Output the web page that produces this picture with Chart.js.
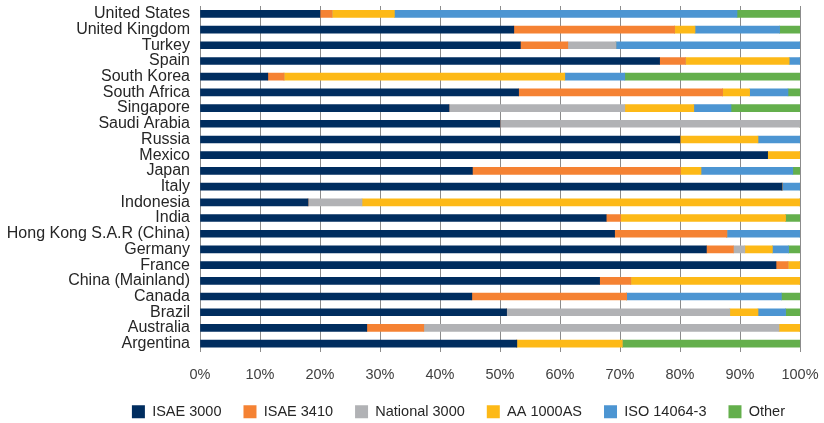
<!DOCTYPE html>
<html>
<head>
<meta charset="utf-8">
<script src="https://cdn.jsdelivr.net/npm/chart.js@4"></script>
<style>
  html, body { margin: 0; padding: 0; background: #fff; }
  #wrap { width: 824px; height: 423px; }
</style>
</head>
<body>
<div id="wrap"><canvas id="assuranceChart" width="824" height="423"></canvas></div>
<script>
// Assurance standards by country (share of reports, %)
const countries = ['United States', 'United Kingdom', 'Turkey', 'Spain', 'South Korea', 'South Africa',
    'Singapore', 'Saudi Arabia', 'Russia', 'Mexico', 'Japan', 'Italy', 'Indonesia', 'India',
    'Hong Kong S.A.R (China)', 'Germany', 'France', 'China (Mainland)', 'Canada', 'Brazil',
    'Australia', 'Argentina'];

const isae3000     = [20, 52.3, 53.4, 76.6, 11.3, 53.1, 41.5, 50, 80, 94.6, 45.4, 97, 18, 67.7, 69.1, 84.4, 96, 66.6, 45.3, 51.1, 27.8, 52.8];
const isae3410     = [2, 26.8, 7.9, 4.3, 2.7, 34, 0, 0, 0, 0, 34.7, 0, 0, 2.4, 18.7, 4.5, 2, 5.2, 25.8, 0, 9.5, 0];
const national3000 = [0, 0, 8, 0, 0, 0, 29.3, 50, 0, 0, 0, 0, 9, 0, 0, 1.9, 0, 0, 0, 37.2, 59.2, 0];
const aa1000as     = [10.4, 3.4, 0, 17.3, 46.8, 4.5, 11.5, 0, 13, 5.4, 3.4, 0, 73, 27.5, 0, 4.6, 2, 28.2, 0, 4.7, 3.5, 17.6];
const iso14064     = [57.1, 14.1, 30.7, 1.8, 10, 6.4, 6.2, 0, 7, 0, 15.3, 3, 0, 0, 12.2, 2.7, 0, 0, 25.8, 4.6, 0, 0];
const other        = [10.5, 3.4, 0, 0, 29.2, 2, 11.5, 0, 0, 0, 1.2, 0, 0, 2.4, 0, 1.9, 0, 0, 3.1, 2.4, 0, 29.6];

const xTicks = [0, 10, 20, 30, 40, 50, 60, 70, 80, 90, 100];

const seriesNames = ['ISAE 3000', 'ISAE 3410', 'National 3000', 'AA 1000AS', 'ISO 14064-3', 'Other'];
const seriesData = [isae3000, isae3410, national3000, aa1000as, iso14064, other];
const seriesColors = ['#002D5F', '#F58233', '#B1B2B5', '#FDB917', '#4C95D2', '#64AF4C'];

const fontFamily = '"Liberation Sans", Arial, sans-serif';

const datasets = seriesNames.map((name, i) => ({
    label: name,
    data: seriesData[i],
    backgroundColor: seriesColors[i],
    borderWidth: 0,
    barThickness: 7
}));

new Chart(document.getElementById('assuranceChart'), {
    type: 'bar',
    data: { labels: countries, datasets: datasets },
    options: {
        indexAxis: 'y',
        responsive: false,
        animation: false,
        layout: { padding: { top: 6, right: 17, bottom: -6, left: 0 } },
        plugins: {
            tooltip: { enabled: false },
            legend: {
                position: 'bottom',
                align: 'end',
                labels: {
                    boxWidth: 13,
                    boxHeight: 13,
                    padding: 22,
                    color: '#262626',
                    font: { family: fontFamily, size: 14.5 }
                }
            }
        },
        scales: {
            x: {
                stacked: true,
                min: 0,
                max: 100,
                afterBuildTicks: (scale) => { scale.ticks = xTicks.map(v => ({ value: v })); },
                afterFit: (scale) => {
                    scale.height = 31;
                    scale.paddingLeft = 0;
                    scale.paddingRight = 24;
                },
                ticks: {
                    color: '#404040',
                    padding: 15,
                    font: { family: fontFamily, size: 14.5 },
                    callback: (v) => v + '%'
                },
                grid: { color: '#8c8c8c', lineWidth: 1, drawTicks: false },
                border: { display: false }
            },
            y: {
                stacked: true,
                afterFit: (scale) => {
                    scale.width = 200;
                    scale.paddingTop = 0;
                    scale.paddingBottom = 0;
                },
                ticks: {
                    autoSkip: false,
                    color: '#262626',
                    padding: 10,
                    font: { family: fontFamily, size: 16, lineHeight: 1 }
                },
                grid: { display: false, drawTicks: false },
                border: { display: false }
            }
        }
    }
});
</script>
</body>
</html>
